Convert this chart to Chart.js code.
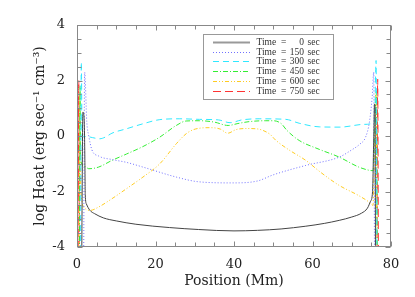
<!DOCTYPE html>
<html>
<head>
<meta charset="utf-8">
<script src="https://cdn.jsdelivr.net/npm/chart.js@4"></script>
<style>
    html, body { margin: 0; padding: 0; background: #fff; }
    canvas { display: block; }
</style>
</head>
<body>
<canvas id="HeatChart" width="415" height="297"></canvas>
<script>
// legend times (sec)
var times = ['0', '150', '300', '450', '600', '750'];

// position (Mm) / log heat for each time
var pos0 = [1.2, 1.5, 1.75, 1.9, 2.0, 2.1, 2.4, 3.3, 4.5, 6.7, 10, 15, 23.6, 31, 40, 46, 52, 58.3, 63, 66.8, 70, 72.5, 74, 74.8, 75.3, 75.6, 75.8, 75.95, 76.05];
var heat0 = [-4.5, 0.86, 0.75, 0.2, -0.8, -2.1, -2.45, -2.68, -2.8, -2.95, -3.06, -3.18, -3.3, -3.37, -3.42, -3.4, -3.35, -3.25, -3.15, -3.04, -2.92, -2.78, -2.6, -2.35, -2.0, -0.1, 1.15, 1.0, -4.5];

var pos150 = [1.7, 1.95, 2.5, 3.0, 3.8, 5.5, 9, 12.6, 16.8, 25.3, 31, 39.7, 46, 50, 58.3, 66.8, 70, 72, 73.5, 74.5, 75.2, 75.6, 75.8];
var heat150 = [-4.5, 2.3, 0.5, 0.0, -0.5, -0.72, -0.85, -0.95, -1.12, -1.48, -1.65, -1.69, -1.62, -1.4, -1.06, -0.76, -0.5, -0.3, -0.05, 0.5, 1.4, 2.3, -4.5];

var pos300 = [0.9, 1.1, 1.3, 2.5, 4, 5.8, 7.2, 8.9, 12.6, 16.8, 21.1, 26.2, 31.2, 36, 39, 42, 46.4, 53.2, 56.6, 61.7, 67, 73.2, 75.8, 76.2, 76.4];
var heat300 = [-4.5, 2.66, 0.0, -0.02, -0.06, -0.1, -0.04, 0.1, 0.26, 0.44, 0.59, 0.62, 0.6, 0.58, 0.48, 0.58, 0.62, 0.6, 0.46, 0.33, 0.32, 0.42, 0.5, 2.72, -4.5];

var pos450 = [0.6, 0.8, 0.85, 2.0, 3.0, 5.5, 8.9, 12.6, 16.8, 21.1, 25.3, 27.8, 31.2, 35, 38.5, 41, 44, 48.1, 50, 52, 53.5, 56.6, 61.7, 66.8, 71.8, 74.6, 75.4, 76.3, 76.5];
var heat450 = [-4.5, 1.8, -0.82, -1.1, -1.18, -1.12, -0.88, -0.65, -0.38, -0.04, 0.38, 0.54, 0.55, 0.5, 0.38, 0.45, 0.52, 0.55, 0.55, 0.45, 0.2, -0.16, -0.48, -0.76, -1.12, -1.24, -1.25, 1.6, -4.5];

var pos600 = [0.5, 0.7, 0.9, 1.3, 2.1, 3.4, 5.5, 8.9, 12.6, 16.8, 21.1, 25.3, 27.8, 29.5, 31.2, 33.8, 36.5, 38.4, 40.5, 43, 45.6, 49, 50.7, 54, 58.3, 62, 66.8, 71.8, 74.6, 75.4, 76.2, 76.4];
var heat600 = [-4.5, 1.5, -1.5, -2.38, -2.62, -2.68, -2.56, -2.26, -1.9, -1.48, -1.0, -0.28, 0.08, 0.22, 0.28, 0.3, 0.25, 0.1, 0.23, 0.27, 0.26, 0.08, -0.16, -0.5, -0.88, -1.3, -1.78, -2.15, -2.4, -2.5, 1.6, -4.5];

var pos750 = [0.3, 0.45, 0.6, 40, 76.4, 76.6, 76.8];
var heat750 = [-4.5, 2.0, -4.5, -5, -4.5, 2.05, -4.5];

function toPoints(xs, ys) {
    return xs.map(function (x, i) { return { x: x, y: ys[i] }; });
}

function series(label, xs, ys, color, dash) {
    return {
        label: label,
        data: toPoints(xs, ys),
        borderColor: color,
        borderDash: dash,
        borderWidth: 1,
        pointRadius: 0,
        fill: false,
        cubicInterpolationMode: 'monotone'
    };
}

// frame, inward ticks and boxed legend like the IDL plot
var framePlugin = {
    id: 'frame',
    afterDatasetsDraw: function (chart) {
        var ctx = chart.ctx;
        var a = chart.chartArea;
        var xs = chart.scales.x;
        var ys = chart.scales.y;
        ctx.save();
        ctx.strokeStyle = '#888';
        ctx.lineWidth = 1;
        var l = Math.round(a.left) + 0.5, r = Math.round(a.right) - 0.5;
        var t = Math.round(a.top) + 0.5, b = Math.round(a.bottom) - 0.5;
        ctx.strokeRect(l, t, r - l, b - t);
        ctx.beginPath();
        for (var v = 0; v <= 80; v += 5) {
            var px = Math.round(xs.getPixelForValue(v)) + 0.5;
            var len = v % 20 === 0 ? 5 : 4;
            ctx.moveTo(px, b); ctx.lineTo(px, b - len);
            ctx.moveTo(px, t); ctx.lineTo(px, t + len);
        }
        for (var w = -4; w <= 4; w += 0.5) {
            var py = Math.round(ys.getPixelForValue(w)) + 0.5;
            var len2 = w % 2 === 0 ? 5 : 4;
            ctx.moveTo(l, py); ctx.lineTo(l + len2, py);
            ctx.moveTo(r, py); ctx.lineTo(r - len2, py);
        }
        ctx.stroke();

        // legend box
        ctx.fillStyle = '#fff';
        ctx.fillRect(203, 34, 130, 65);
        ctx.strokeStyle = '#999';
        ctx.strokeRect(203.5, 34.5, 130, 65);
        ctx.font = '9.5px "Liberation Serif"';
        ctx.fillStyle = '#333';
        ctx.textBaseline = 'middle';
        chart.data.datasets.forEach(function (ds, i) {
            var y = Math.round(41.7 + i * 9.85) + 0.5;
            ctx.save();
            ctx.strokeStyle = i === 0 ? '#999999' : ds.borderColor;
            ctx.lineWidth = i === 0 ? 2 : 1;
            ctx.setLineDash(ds.borderDash || []);
            ctx.beginPath();
            ctx.moveTo(213, y); ctx.lineTo(250, y);
            ctx.stroke();
            ctx.restore();
            ctx.textAlign = 'left';
            ctx.fillText('Time', 256.5, y);
            ctx.fillText('=', 281, y);
            ctx.textAlign = 'right';
            ctx.fillText(times[i], 304, y);
            ctx.textAlign = 'left';
            ctx.fillText('sec', 307.5, y);
        });
        ctx.restore();
    }
};

var ctx = document.getElementById('HeatChart').getContext('2d');
var heatChart = new Chart(ctx, {
    type: 'line',
    data: {
        datasets: [
            series('Time = 0 sec', pos0, heat0, '#444444', []),
            series('Time = 150 sec', pos150, heat150, '#7070ff', [1, 2]),
            series('Time = 300 sec', pos300, heat300, '#30e8ff', [6, 4]),
            series('Time = 450 sec', pos450, heat450, '#33ee33', [5, 2, 1, 2]),
            series('Time = 600 sec', pos600, heat600, '#ffcc22', [4, 2, 1, 2, 1, 2]),
            series('Time = 750 sec', pos750, heat750, '#ff3333', [8, 4])
        ]
    },
    options: {
        responsive: false,
        animation: false,
        layout: { padding: { left: 0, right: 24, top: 25, bottom: 0 } },
        plugins: {
            legend: { display: false },
            tooltip: { enabled: false }
        },
        scales: {
            x: {
                type: 'linear',
                min: 0,
                max: 80,
                afterFit: function (scale) { scale.height = 50; },
                grid: { display: false },
                border: { display: false },
                ticks: {
                    stepSize: 20,
                    padding: 2,
                    maxRotation: 0,
                    color: '#222',
                    font: { family: 'DejaVu Serif', size: 13 }
                },
                title: {
                    display: true,
                    text: 'Position (Mm)',
                    color: '#222',
                    font: { family: 'DejaVu Serif', size: 14 },
                    padding: { top: 0, bottom: 7 }
                }
            },
            y: {
                min: -4,
                max: 4,
                afterFit: function (scale) { scale.width = 77; },
                grid: { display: false },
                border: { display: false },
                ticks: {
                    stepSize: 2,
                    padding: 4,
                    color: '#222',
                    font: { family: 'DejaVu Serif', size: 13 }
                },
                title: {
                    display: true,
                    text: 'log Heat (erg sec\u207B\u00B9 cm\u207B\u00B3)',
                    color: '#222',
                    font: { family: 'DejaVu Serif', size: 14 },
                    padding: { top: 32, bottom: 0 }
                }
            }
        }
    },
    plugins: [framePlugin]
});
</script>
</body>
</html>
